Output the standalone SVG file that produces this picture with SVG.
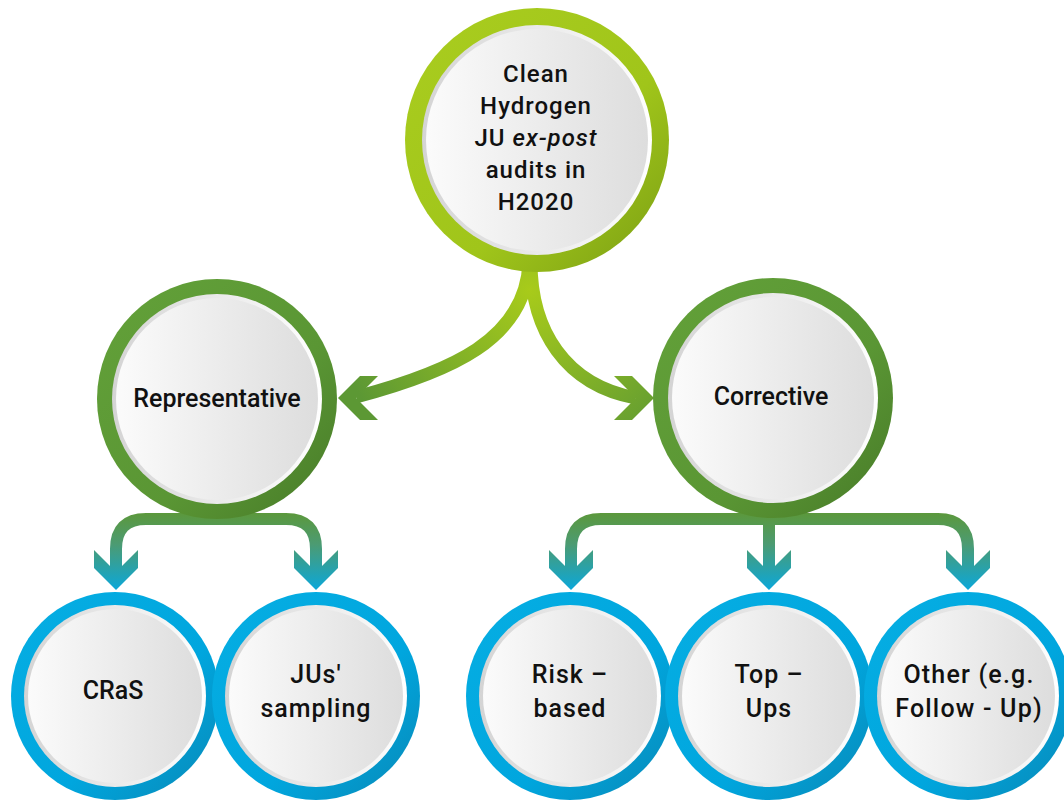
<svg xmlns="http://www.w3.org/2000/svg" width="1064" height="800" viewBox="0 0 1064 800">
<defs>
<linearGradient id="ringLime" x1="0" y1="0" x2="1" y2="1"><stop offset="0" stop-color="#aacd1f"/><stop offset="0.6" stop-color="#a0c51a"/><stop offset="1" stop-color="#7a9e14"/></linearGradient>
<linearGradient id="ringGreen" x1="0" y1="0" x2="1" y2="1"><stop offset="0" stop-color="#63a139"/><stop offset="0.6" stop-color="#5a9634"/><stop offset="1" stop-color="#477a28"/></linearGradient>
<linearGradient id="ringBlue" x1="0" y1="0" x2="1" y2="1"><stop offset="0" stop-color="#06aee3"/><stop offset="0.6" stop-color="#00a6de"/><stop offset="1" stop-color="#0988b6"/></linearGradient>
<linearGradient id="rim" x1="0" y1="0" x2="1" y2="0"><stop offset="0" stop-color="#d4d4d4"/><stop offset="1" stop-color="#ffffff"/></linearGradient>
<linearGradient id="disc" x1="0" y1="0" x2="1" y2="0"><stop offset="0" stop-color="#fbfbfb"/><stop offset="1" stop-color="#dddddd"/></linearGradient>
<radialGradient id="topConn" gradientUnits="userSpaceOnUse" cx="530" cy="290" r="200"><stop offset="0" stop-color="#a8cb1a"/><stop offset="1" stop-color="#5c9834"/></radialGradient>
<linearGradient id="botConn" gradientUnits="userSpaceOnUse" x1="0" y1="512" x2="0" y2="592"><stop offset="0" stop-color="#5c983a"/><stop offset="0.4" stop-color="#4c9b72"/><stop offset="1" stop-color="#08a8de"/></linearGradient>
</defs>
<style>
.lbl{font-family:Roboto,"Liberation Sans",sans-serif;font-size:25px;font-weight:500;fill:#111;text-anchor:middle}
.top{font-size:24px;letter-spacing:1px}
.rim{fill:url(#rim)}
.disc{fill:url(#disc)}
.lime{fill:url(#ringLime)}
.green{fill:url(#ringGreen)}
.blue{fill:url(#ringBlue)}
.tc{fill:none;stroke:url(#topConn);stroke-width:13}
.bc{fill:none;stroke:url(#botConn);stroke-width:12}
</style>
<g id="connectors">
<path class="tc" d="M529,262 C526,340 450,372 356,397"/>
<path class="tc" d="M531,262 C531,330 565,385 636,398"/>
<polygon fill="url(#topConn)" points="338,398 360,376 378,376 356,398 378,420 360,420"/>
<polygon fill="url(#topConn)" points="654,398 632,376 614,376 636,398 614,420 632,420"/>
<path class="bc" d="M116,574 V549 Q116,519 146,519 H286 Q316,519 316,549 V574"/>
<path class="bc" d="M571,574 V549 Q571,519 601,519 H938 Q968,519 968,549 V574 M769,519 V574"/>
<polygon fill="url(#botConn)" points="116,590 94,568 94,550 116,572 138,550 138,568"/>
<polygon fill="url(#botConn)" points="316,590 294,568 294,550 316,572 338,550 338,568"/>
<polygon fill="url(#botConn)" points="571,590 549,568 549,550 571,572 593,550 593,568"/>
<polygon fill="url(#botConn)" points="769,590 747,568 747,550 769,572 791,550 791,568"/>
<polygon fill="url(#botConn)" points="968,590 946,568 946,550 968,572 990,550 990,568"/>
</g>
<g id="node-top">
<circle class="lime" cx="537" cy="140" r="132"/>
<circle class="rim" cx="537" cy="140" r="115"/>
<circle class="disc" cx="537" cy="140" r="111"/>
<text class="lbl top" x="536" y="82">Clean</text>
<text class="lbl top" x="536" y="114">Hydrogen</text>
<text class="lbl top" x="536" y="146">JU <tspan font-style="italic">ex-post</tspan></text>
<text class="lbl top" x="536" y="178">audits in</text>
<text class="lbl top" x="536" y="210">H2020</text>
</g>
<g id="node-representative">
<circle class="green" cx="217" cy="399" r="120"/>
<circle class="rim" cx="217" cy="399" r="105"/>
<circle class="disc" cx="217" cy="399" r="101"/>
<text class="lbl" x="217" y="407">Representative</text>
</g>
<g id="node-corrective">
<circle class="green" cx="773" cy="398" r="120"/>
<circle class="rim" cx="773" cy="398" r="105"/>
<circle class="disc" cx="773" cy="398" r="101"/>
<text class="lbl" x="771" y="405">Corrective</text>
</g>
<g id="node-cras">
<circle class="blue" cx="115" cy="696" r="104"/>
<circle class="rim" cx="115" cy="696" r="91"/>
<circle class="disc" cx="115" cy="696" r="87"/>
<text class="lbl" x="113" y="699">CRaS</text>
</g>
<g id="node-jus">
<circle class="blue" cx="316" cy="696" r="104"/>
<circle class="rim" cx="316" cy="696" r="91"/>
<circle class="disc" cx="316" cy="696" r="87"/>
<text class="lbl" x="316" y="683" letter-spacing="1">JUs'</text>
<text class="lbl" x="316" y="717" letter-spacing="1">sampling</text>
</g>
<g id="node-risk">
<circle class="blue" cx="570" cy="696" r="104"/>
<circle class="rim" cx="570" cy="696" r="91"/>
<circle class="disc" cx="570" cy="696" r="87"/>
<text class="lbl" x="570" y="683" letter-spacing="1">Risk –</text>
<text class="lbl" x="570" y="717" letter-spacing="1">based</text>
</g>
<g id="node-topups">
<circle class="blue" cx="769" cy="696" r="104"/>
<circle class="rim" cx="769" cy="696" r="91"/>
<circle class="disc" cx="769" cy="696" r="87"/>
<text class="lbl" x="769" y="683" letter-spacing="1">Top –</text>
<text class="lbl" x="769" y="717" letter-spacing="1">Ups</text>
</g>
<g id="node-other">
<circle class="blue" cx="968" cy="696" r="104"/>
<circle class="rim" cx="968" cy="696" r="91"/>
<circle class="disc" cx="968" cy="696" r="87"/>
<text class="lbl" x="969" y="683" letter-spacing="1.2">Other (e.g.</text>
<text class="lbl" x="969" y="717" letter-spacing="1.2">Follow - Up)</text>
</g>
</svg>
